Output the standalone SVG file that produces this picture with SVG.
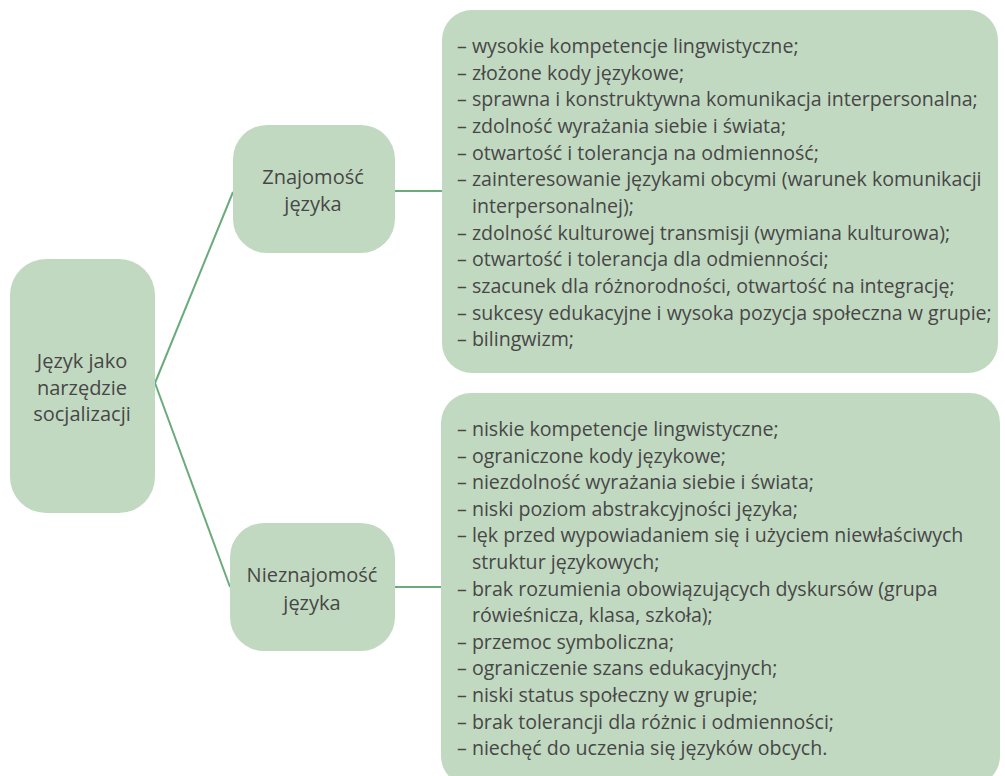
<svg xmlns="http://www.w3.org/2000/svg" width="1005" height="776" viewBox="0 0 1005 776">
<style>
.box{fill:#c2d9c1;stroke:none}
.con{stroke:#6aab7b;stroke-width:2;fill:none}
text{font-family:"Open Sans","Liberation Sans",sans-serif;font-size:20px;font-weight:400;fill:#474747}
.l{font-size:19.6px}
.c{text-anchor:middle}
</style>
<rect width="1005" height="776" fill="#ffffff"/>
<g id="connectors">
<line class="con" x1="155" y1="383" x2="233" y2="192"/>
<line class="con" x1="155" y1="383" x2="230" y2="587"/>
<line class="con" x1="395" y1="191" x2="442" y2="191"/>
<line class="con" x1="395" y1="587" x2="441" y2="587"/>
</g>
<g id="root">
<rect class="box" x="10" y="259" width="145" height="254" rx="36"/>
<text class="c" x="82" y="368">Język jako</text>
<text class="c" x="82" y="395">narzędzie</text>
<text class="c" x="82" y="421">socjalizacji</text>
</g>
<g id="znajomosc">
<rect class="box" x="233" y="125" width="162" height="128" rx="34"/>
<text class="c" x="313" y="184">Znajomość</text>
<text class="c" x="313" y="211">języka</text>
</g>
<g id="nieznajomosc">
<rect class="box" x="230" y="523" width="165" height="128" rx="34"/>
<text class="c" x="312" y="582">Nieznajomość</text>
<text class="c" x="312" y="610">języka</text>
</g>
<g id="lista-znajomosc">
<rect class="box" x="442" y="10" width="556" height="363" rx="30"/>
<text class="l" x="457" y="53">– wysokie kompetencje lingwistyczne;</text>
<text class="l" x="457" y="80">– złożone kody językowe;</text>
<text class="l" x="457" y="106">– sprawna i konstruktywna komunikacja interpersonalna;</text>
<text class="l" x="457" y="133">– zdolność wyrażania siebie i świata;</text>
<text class="l" x="457" y="160">– otwartość i tolerancja na odmienność;</text>
<text class="l" x="457" y="186">– zainteresowanie językami obcymi (warunek komunikacji</text>
<text class="l" x="472" y="213">interpersonalnej);</text>
<text class="l" x="457" y="240">– zdolność kulturowej transmisji (wymiana kulturowa);</text>
<text class="l" x="457" y="266">– otwartość  i tolerancja dla odmienności;</text>
<text class="l" x="457" y="293">– szacunek dla różnorodności, otwartość na integrację;</text>
<text class="l" x="457" y="320">– sukcesy edukacyjne i wysoka pozycja społeczna w grupie;</text>
<text class="l" x="457" y="346">– bilingwizm;</text>
</g>
<g id="lista-nieznajomosc">
<rect class="box" x="441" y="393" width="559" height="393" rx="30"/>
<text class="l" x="457" y="436">– niskie kompetencje lingwistyczne;</text>
<text class="l" x="457" y="463">– ograniczone kody językowe;</text>
<text class="l" x="457" y="489">– niezdolność wyrażania siebie i świata;</text>
<text class="l" x="457" y="516">– niski poziom abstrakcyjności języka;</text>
<text class="l" x="457" y="542">– lęk przed wypowiadaniem się i użyciem niewłaściwych</text>
<text class="l" x="472" y="569">struktur językowych;</text>
<text class="l" x="457" y="596">– brak rozumienia obowiązujących dyskursów (grupa</text>
<text class="l" x="472" y="622">rówieśnicza, klasa, szkoła);</text>
<text class="l" x="457" y="649">– przemoc symboliczna;</text>
<text class="l" x="457" y="675">– ograniczenie szans edukacyjnych;</text>
<text class="l" x="457" y="702">– niski status społeczny w grupie;</text>
<text class="l" x="457" y="729">– brak tolerancji dla różnic i odmienności;</text>
<text class="l" x="457" y="755">– niechęć do uczenia się języków obcych.</text>
</g>
</svg>
